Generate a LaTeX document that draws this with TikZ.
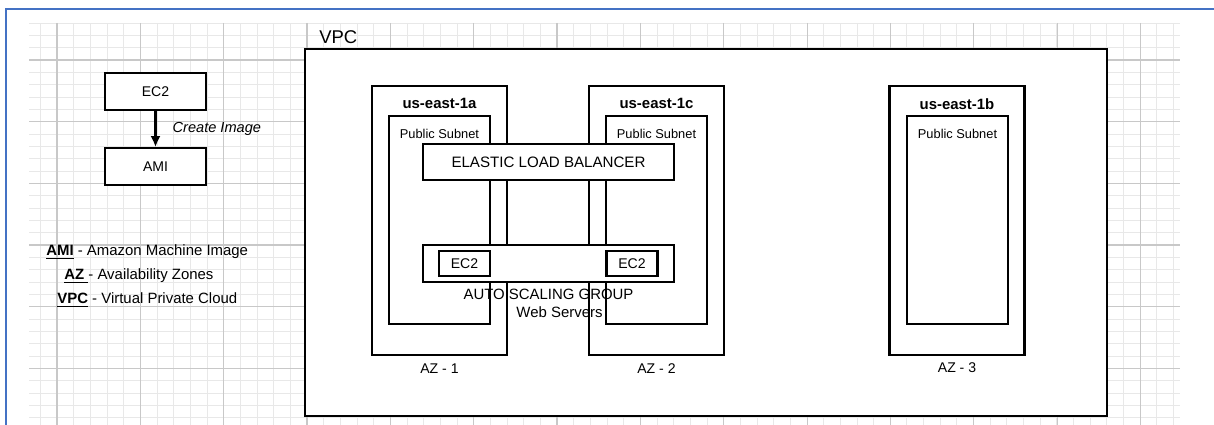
\documentclass[tikz,border=0pt]{standalone}
\usepackage{fontspec}
\setmainfont{Liberation Sans}
\usetikzlibrary{arrows.meta,positioning}
\definecolor{ARCHframe}{HTML}{4472C4}
\definecolor{ARCHgrid}{HTML}{E8E8E8}
\definecolor{ARCHgridmaj}{HTML}{C8C8C8}
\tikzset{archbox/.style={draw=black,line width=1.3pt,fill=white,inner sep=0pt,
 font=\fontsize{8}{9.6}\selectfont},
 zonebox/.style={archbox,minimum width=2.7cm,minimum height=5.38cm},
 subnetbox/.style={archbox,minimum width=2.02cm,minimum height=4.16cm},
 widebox/.style={archbox,minimum width=5.02cm,minimum height=0.72cm},
 ec2box/.style={archbox,minimum width=2.02cm,minimum height=0.74cm},
 vmbox/.style={archbox,minimum width=1.02cm,minimum height=0.5cm},
 archlbl/.style={inner sep=0pt,font=\fontsize{8}{9.6}\selectfont},
 zonetitle/.style={archlbl,font=\fontsize{8.5}{10}\selectfont\bfseries},
 archarr/.style={-{Latex[length=2.2mm,width=2mm]},line width=1.3pt}}

\begin{document}
\begin{tikzpicture}[y=-1cm,node distance=0.72cm]
\useasboundingbox (0,0) rectangle (24.28,8.5);
% grid paper
\begin{scope}
\clip (0.58,0.46) rectangle (23.6,8.6);
\foreach \k in {0,...,68}
 \draw[ARCHgrid,line width=0.5pt] (0.807+\k*0.3333,0.46) -- (0.807+\k*0.3333,8.6);
\foreach \k in {0,...,33}
 \draw[ARCHgrid,line width=0.5pt] (0.58,0.46+\k*0.2467) -- (23.6,0.46+\k*0.2467);
\foreach \k in {0,...,13}
 \draw[ARCHgridmaj,line width=0.6pt] (1.14+\k*1.6667,0.46) -- (1.14+\k*1.6667,8.6);
\foreach \k in {0,...,5}
 \draw[ARCHgridmaj,line width=0.6pt] (0.58,1.2+\k*1.2335) -- (23.6,1.2+\k*1.2335);
\end{scope}
\draw[ARCHframe,line width=1.6pt] (0.12,8.7) -- (0.12,0.18) -- (24.4,0.18);

% image creation
\node[ec2box] (ec2) at (3.11,1.83) {EC2};
\node[ec2box,below=of ec2] (ami) {AMI};
\draw[archarr] (ec2) -- node[archlbl,right=0.32cm,font=\fontsize{8.3}{10}\selectfont\itshape] (create) {Create Image} (ami);

% legend
\node[archlbl,anchor=west,font=\fontsize{8.5}{10}\selectfont] (lami) at (0.92,5.04) {\underline{\textbf{AMI}} - Amazon Machine Image};
\node[archlbl,anchor=west,font=\fontsize{8.5}{10}\selectfont] (laz) at (1.28,5.52) {\underline{\textbf{AZ }}- Availability Zones};
\node[archlbl,anchor=west,font=\fontsize{8.5}{10}\selectfont] (lvpc) at (1.14,6.0) {\underline{\textbf{VPC}} - Virtual Private Cloud};

% VPC
\draw[line width=1.6pt,fill=white] (6.1,0.98) rectangle (22.14,8.32);
\node[archlbl,anchor=west,font=\fontsize{10.5}{12}\selectfont] (vpc) at (6.38,0.74) {VPC};

% availability zones
\node[zonebox] (az1) at (8.79,4.41) {};
\node[zonebox] (az2) at (13.13,4.41) {};
\node[zonebox] (az3) at (19.14,4.41) {};
\node[subnetbox] (sub1) at (8.79,4.40) {};
\node[subnetbox] (sub2) at (13.13,4.40) {};
\node[subnetbox] (sub3) at (19.15,4.40) {};
\node[zonetitle,below=0.26cm of az1.north] (t1) {us-east-1a};
\node[zonetitle,below=0.26cm of az2.north] (t2) {us-east-1c};
\node[zonetitle,below=0.26cm of az3.north] (t3) {us-east-1b};
\node[archlbl,font=\fontsize{7.3}{9}\selectfont,below=0.29cm of sub1.north] (p1) {Public Subnet};
\node[archlbl,font=\fontsize{7.3}{9}\selectfont,below=0.29cm of sub2.north] (p2) {Public Subnet};
\node[archlbl,font=\fontsize{7.3}{9}\selectfont,below=0.29cm of sub3.north] (p3) {Public Subnet};
\node[archlbl,below=0.14cm of az1.south] (z1) {AZ - 1};
\node[archlbl,below=0.14cm of az2.south] (z2) {AZ - 2};
\node[archlbl,below=0.12cm of az3.south] (z3) {AZ - 3};

% load balancer and auto scaling
\node[widebox,font=\fontsize{8.6}{10}\selectfont] (elb) at (10.97,3.24) {ELASTIC LOAD BALANCER};
\node[widebox,minimum height=0.74cm] (asg) at (10.97,5.27) {};
\node[vmbox] (vm1) at (9.29,5.27) {EC2};
\node[vmbox] (vm2) at (12.64,5.27) {EC2};
\node[archlbl,align=center,font=\fontsize{8.5}{10.2}\selectfont,below=0.12cm of asg] (asgl) {AUTO SCALING GROUP\\\hspace*{0.44cm}Web Servers};
\end{tikzpicture}
\end{document}
